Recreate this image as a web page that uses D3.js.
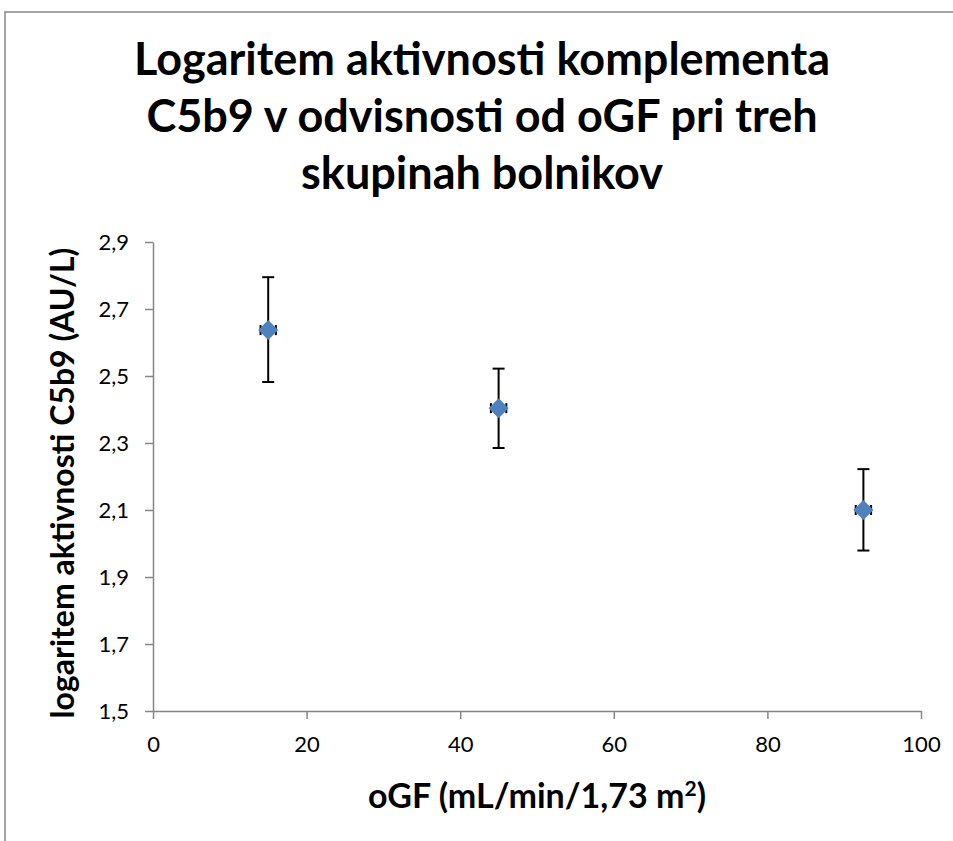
<!DOCTYPE html>
<html>
<head>
<meta charset="utf-8">
<script src="https://cdn.jsdelivr.net/npm/d3@7"></script>
<style>
  body { margin: 0; background: #fff; }
  svg { display: block; font-family: Lato, "Open Sans", sans-serif; }
</style>
</head>
<body>
<svg id="chart" width="953" height="841"></svg>
<script>
// values
const ogf = [15, 45, 92.5];
const c5b9 = [2.637, 2.404, 2.1];
const errUp = [0.158, 0.118, 0.122];
const errDown = [0.155, 0.119, 0.121];
const errX = [1, 1, 1];
const xTicks = [0, 20, 40, 60, 80, 100];
const yTicks = [1.5, 1.7, 1.9, 2.1, 2.3, 2.5, 2.7, 2.9];
const titleLines = ["Logaritem aktivnosti komplementa", "C5b9 v odvisnosti od oGF pri treh", "skupinah bolnikov"];

const points = ogf.map((x, i) => ({ x, y: c5b9[i], up: errUp[i], down: errDown[i], ex: errX[i] }));

const svg = d3.select("#chart");
const margin = { top: 242, right: 32, bottom: 130, left: 153 };
const width = 953, height = 841;

const x = d3.scaleLinear().domain([0, 100]).range([margin.left, width - margin.right]);
const y = d3.scaleLinear().domain([1.5, 2.9]).range([height - margin.bottom, margin.top]);

// outer frame
svg.append("rect")
  .attr("x", 5).attr("y", 12)
  .attr("width", 960).attr("height", 840)
  .attr("fill", "none").attr("stroke", "#868686").attr("stroke-width", 1.5);

// title
svg.append("g")
  .selectAll("text")
  .data(titleLines)
  .join("text")
  .attr("x", 482)
  .attr("y", (d, i) => 75 + i * 57)
  .attr("text-anchor", "middle")
  .attr("font-size", 45)
  .attr("font-weight", "bold")
  .text((d) => d);

// axes
const xAxis = svg.append("g")
  .attr("transform", `translate(0,${y(1.5)})`)
  .call(d3.axisBottom(x).tickValues(xTicks).tickSize(8).tickSizeOuter(0).tickFormat(d3.format("d")));
const yAxis = svg.append("g")
  .attr("transform", `translate(${x(0)},0)`)
  .call(d3.axisLeft(y).tickValues(yTicks).tickSize(8).tickSizeOuter(0).tickFormat((d) => d3.format(".1f")(d).replace(".", ",")));

[xAxis, yAxis].forEach((g) => {
  g.select(".domain").attr("stroke", "#868686").attr("stroke-width", 1.5);
  g.selectAll(".tick line").attr("stroke", "#868686").attr("stroke-width", 1.5);
  g.selectAll(".tick text").attr("font-size", 22).attr("fill", "#000").attr("font-family", "Lato, sans-serif");
});
xAxis.selectAll(".tick text").attr("dy", "1.35em");
yAxis.selectAll(".tick text").attr("dx", "-13px");

// axis titles
svg.append("text")
  .attr("x", 537).attr("y", 808)
  .attr("text-anchor", "middle")
  .attr("font-size", 34).attr("font-weight", "bold")
  .html("oGF (mL/min/1,73 m<tspan baseline-shift=\"super\" font-size=\"21\">2</tspan>)");

svg.append("text")
  .attr("transform", "translate(74,483) rotate(-90)")
  .attr("text-anchor", "middle")
  .attr("font-size", 32).attr("font-weight", "bold")
  .text("logaritem aktivnosti C5b9 (AU/L)");

// error bars
const bars = svg.append("g").attr("stroke", "#000").attr("stroke-width", 2);
bars.selectAll(".v")
  .data(points)
  .join("line")
  .attr("x1", (d) => x(d.x)).attr("x2", (d) => x(d.x))
  .attr("y1", (d) => y(d.y + d.up)).attr("y2", (d) => y(d.y - d.down));
bars.selectAll(".capTop")
  .data(points)
  .join("line")
  .attr("x1", (d) => x(d.x) - 6).attr("x2", (d) => x(d.x) + 6)
  .attr("y1", (d) => y(d.y + d.up)).attr("y2", (d) => y(d.y + d.up));
bars.selectAll(".capBottom")
  .data(points)
  .join("line")
  .attr("x1", (d) => x(d.x) - 6).attr("x2", (d) => x(d.x) + 6)
  .attr("y1", (d) => y(d.y - d.down)).attr("y2", (d) => y(d.y - d.down));
// horizontal error bars (mostly hidden under markers)
bars.selectAll(".h")
  .data(points)
  .join("line")
  .attr("x1", (d) => x(d.x - d.ex)).attr("x2", (d) => x(d.x + d.ex))
  .attr("y1", (d) => y(d.y)).attr("y2", (d) => y(d.y));
bars.selectAll(".hcap")
  .data(points.flatMap((d) => [{ ...d, side: -1 }, { ...d, side: 1 }]))
  .join("line")
  .attr("x1", (d) => x(d.x + d.side * d.ex)).attr("x2", (d) => x(d.x + d.side * d.ex))
  .attr("y1", (d) => y(d.y) - 5).attr("y2", (d) => y(d.y) + 5);

// markers
svg.append("g")
  .selectAll("path")
  .data(points)
  .join("path")
  .attr("transform", (d) => `translate(${x(d.x)},${y(d.y)})`)
  .attr("d", "M0,-10L10,0L0,10L-10,0Z")
  .attr("fill", "#4F81BD");
</script>
</body>
</html>
